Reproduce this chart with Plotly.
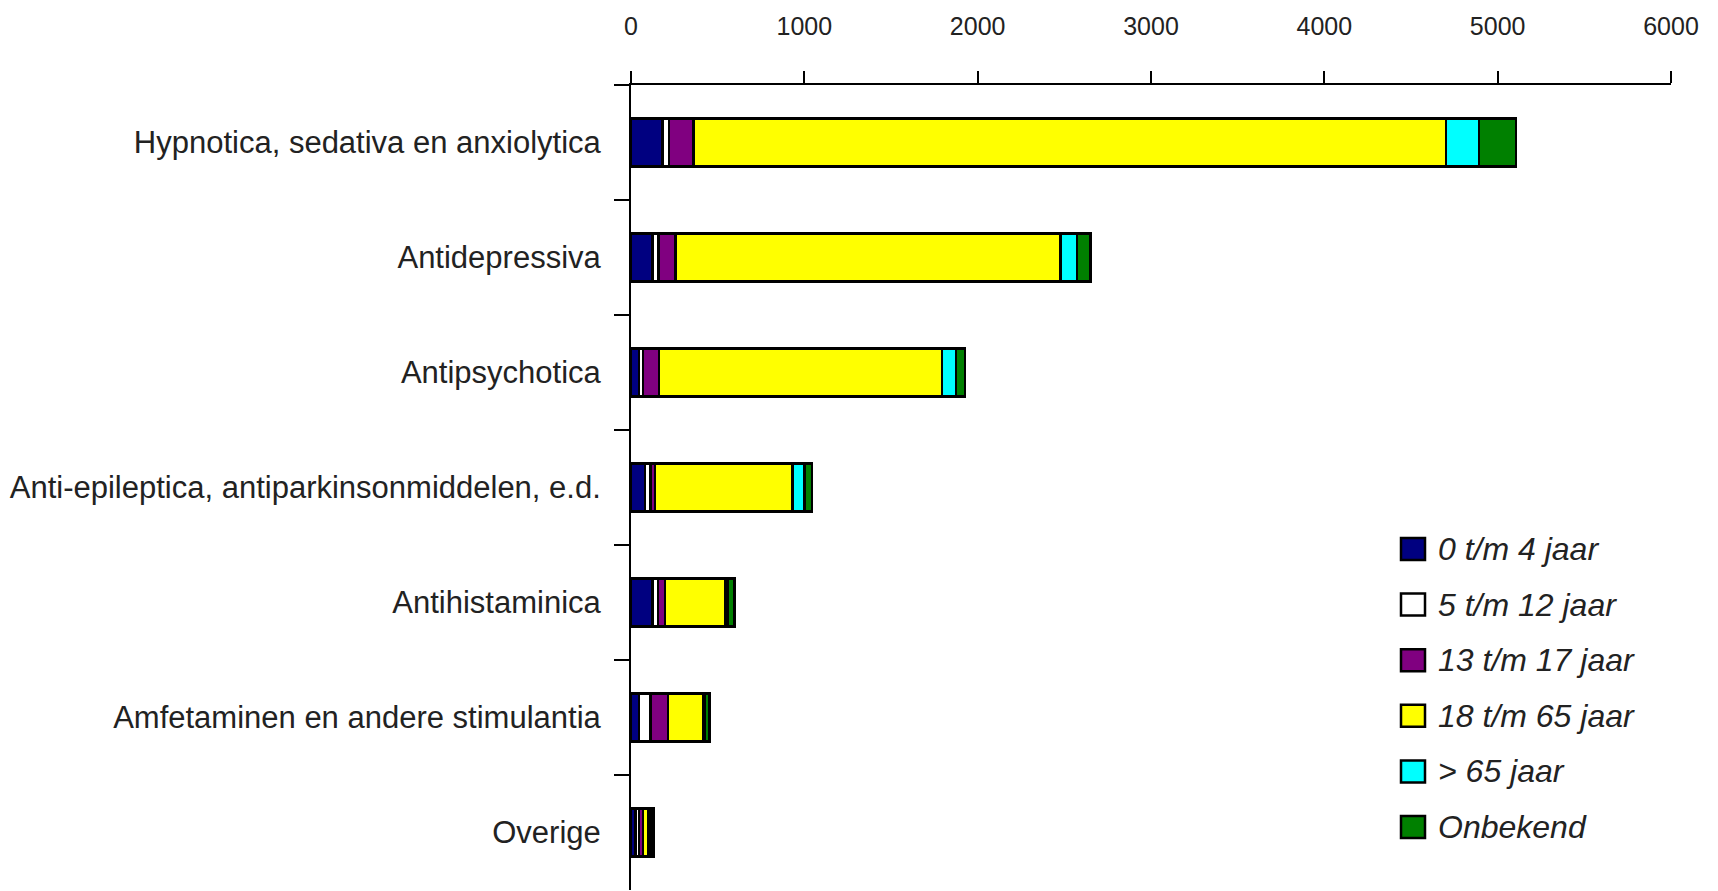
import plotly.graph_objects as go

categories = [
    "Hypnotica, sedativa en anxiolytica",
    "Antidepressiva",
    "Antipsychotica",
    "Anti-epileptica, antiparkinsonmiddelen, e.d.",
    "Antihistaminica",
    "Amfetaminen en andere stimulantia",
    "Overige",
]

series_names = ["0 t/m 4 jaar", "5 t/m 12 jaar", "13 t/m 17 jaar",
                "18 t/m 65 jaar", "> 65 jaar", "Onbekend"]
series_colors = ["#000080", "#FFFFFF", "#800080", "#FFFF00", "#00FFFF", "#008000"]

age_0_4 = [181, 123, 45, 82, 125, 45, 25]
age_5_12 = [38, 35, 24, 30, 32, 68, 20]
age_13_17 = [141, 100, 93, 25, 38, 100, 23]
age_18_65 = [4343, 2221, 1631, 794, 351, 201, 30]
age_65_plus = [190, 95, 82, 69, 15, 10, 15]
unknown = [212, 76, 52, 45, 35, 28, 16]

series_values = [age_0_4, age_5_12, age_13_17, age_18_65, age_65_plus, unknown]

x_ticks = [0, 1000, 2000, 3000, 4000, 5000, 6000]

label_font = "Liberation Sans, Arial, sans-serif"

fig = go.Figure()
for name, color, vals in zip(series_names, series_colors, series_values):
    fig.add_trace(go.Bar(
        y=categories, x=vals, name=name, orientation="h",
        marker=dict(color=color, line=dict(color="black", width=2.5)),
        showlegend=False,
    ))

# plot area geometry in pixels (for the manual legend)
W, H = 1718, 891
ml, mr, mt, mb = 623, 55, 77, 9
pw, ph = W - ml - mr, H - mt - mb

shapes = []
annotations = []
for i, (name, color) in enumerate(zip(series_names, series_colors)):
    cy = 541 + i * 55.6
    x0, x1 = 1393, 1417
    shapes.append(dict(
        type="rect", xref="paper", yref="paper",
        x0=(x0 - ml) / pw, x1=(x1 - ml) / pw,
        y0=(H - mb - (cy + 11)) / ph, y1=(H - mb - (cy - 11)) / ph,
        fillcolor=color, line=dict(color="black", width=2.5),
    ))
    annotations.append(dict(
        xref="paper", yref="paper", x=(1428 - ml) / pw, y=(H - mb - cy) / ph,
        xanchor="left", yanchor="middle", showarrow=False, text=name,
        font=dict(family="Liberation Sans, Arial, sans-serif", size=32,
                  color="#222", style="italic"),
    ))

fig.update_layout(
    width=W, height=H,
    margin=dict(l=ml, r=mr, t=mt, b=mb, pad=0),
    barmode="stack", bargap=0.58,
    plot_bgcolor="white", paper_bgcolor="white",
    shapes=shapes, annotations=annotations,
    xaxis=dict(
        side="top", range=[0, 6000], tickvals=x_ticks,
        ticktext=[str(t) for t in x_ticks], automargin=False,
        showgrid=False, zeroline=False, showline=True, linecolor="black",
        linewidth=2, ticks="outside", ticklen=12, tickwidth=2, tickcolor="black",
        tickfont=dict(family=label_font, size=25, color="#222"),
        ticklabelstandoff=26,
    ),
    yaxis=dict(
        autorange="reversed", type="category", automargin=False,
        showgrid=False, zeroline=False, showline=True, linecolor="black",
        linewidth=2, ticks="outside", ticklen=15, tickwidth=2, tickcolor="black",
        tickson="boundaries",
        tickfont=dict(family=label_font, size=31, color="#222"),
        ticklabelstandoff=22,
    ),
)

fig.write_html("out.html")
